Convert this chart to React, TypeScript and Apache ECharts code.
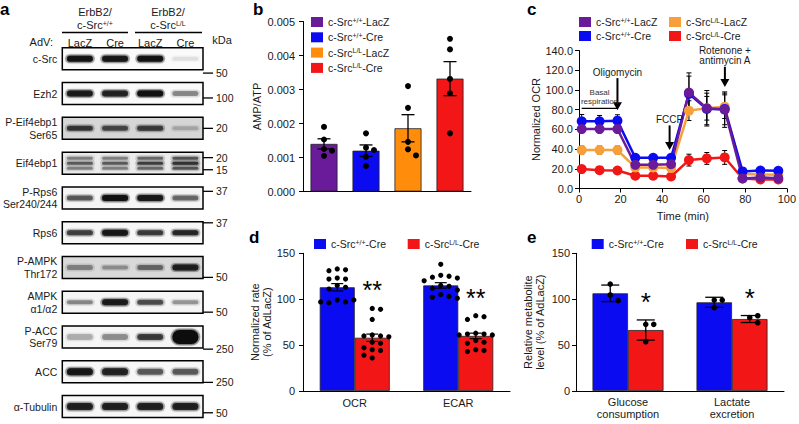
import React, { useEffect, useRef } from 'react';
import * as echarts from 'echarts';

const FONT = '"Liberation Sans", Arial, Helvetica, sans-serif';
const TXT = '#1a1a1a';

// ---------------- panel a : western blot ----------------
const blotLanes = ['LacZ', 'Cre', 'LacZ', 'Cre'];
const blotRows = [
  'c-Src', 'Ezh2', 'P-Eif4ebp1\nSer65', 'Eif4ebp1', 'P-Rps6\nSer240/244', 'Rps6',
  'P-AMPK\nThr172', 'AMPK\nα1/α2', 'P-ACC\nSer79', 'ACC', 'α-Tubulin',
];
const blotIntensity = [
  [0.92, 0.88, 0.92, 0.08],
  [0.85, 0.8, 0.95, 0.35],
  [0.62, 0.55, 0.65, 0.18],
  [0.55, 0.55, 0.68, 0.8],
  [0.5, 0.95, 0.88, 0.45],
  [0.65, 0.88, 0.68, 0.78],
  [0.32, 0.28, 0.42, 0.82],
  [0.35, 0.85, 0.55, 0.3],
  [0.22, 0.32, 0.62, 1.0],
  [0.88, 0.8, 0.5, 0.5],
  [0.82, 0.82, 0.82, 0.82],
];
const blotBandHeight = [
  [6, 6, 6, 4], [6, 6, 6, 5], [5, 5, 5, 4], [3, 3, 3, 3], [5, 6, 6, 5], [5, 6, 5, 5],
  [5, 4, 5, 6], [4, 6, 5, 4], [6, 6, 6, 14], [7, 7, 6, 6], [7, 7, 7, 7],
];
const blotBandCount = [1, 1, 1, 3, 1, 1, 1, 1, 1, 1, 1];
const blotBackground = [0.02, 0.02, 0.16, 0.08, 0.04, 0.03, 0.15, 0.04, 0.04, 0.03, 0.03];
const blotMarkers = [['50'], ['100'], ['20'], ['20', '15'], ['37'], ['37'], ['50'], ['50'], ['250'], ['250'], ['50']];
const blotMarkerPos = [[1.15], [0.7], [0.5], [0.25, 0.8], [0.2], [0.05], [0.95], [0.95], [1.05], [0.98], [0.78]];

// ---------------- panel b : AMP/ATP ----------------
const bGroups = ['c-Src+/+-LacZ', 'c-Src+/+-Cre', 'c-SrcL/L-LacZ', 'c-SrcL/L-Cre'];
const bMeans = [0.0014, 0.0012, 0.00186, 0.00332];
const bSem = [0.00015, 0.00017, 0.0004, 0.0005];
const bPoints = [
  [0.0019, 0.00153, 0.00125, 0.0012, 0.00105],
  [0.00171, 0.00129, 0.00122, 0.00102, 0.00075],
  [0.0031, 0.00246, 0.00146, 0.00124, 0.00106],
  [0.00449, 0.00418, 0.00331, 0.00289, 0.00171],
];

// ---------------- panel c : OCR time course ----------------
const cTimes = [1.3, 9.9, 18.5, 27.1, 35.7, 44.3, 52.9, 61.5, 70.1, 78.7, 87.3, 95.9];
const cMeans = [
  [60.3, 60.3, 60.3, 24, 24, 24.7, 97.3, 81.4, 80, 10.2, 11.2, 10.5],
  [68.1, 68.1, 68.8, 31.2, 31.2, 31.2, 96, 80.7, 80.7, 17.3, 18.3, 18],
  [39, 39, 39, 21.4, 21.4, 20.7, 79, 81.4, 83, 14.6, 14.2, 13.9],
  [19.7, 18.6, 18.3, 12.9, 12.9, 12.2, 28.8, 30.5, 31.5, 10.2, 9.2, 9.2],
];
const cErr = [
  [3, 3, 3, 3, 3, 3, 20, 18, 18, 2, 2, 2],
  [7, 6, 6, 3, 3, 3, 18, 16, 16, 2, 2, 2],
  [4, 4, 4, 3, 3, 3, 10, 12, 12, 2, 2, 2],
  [3, 3, 3, 2, 2, 2, 6, 6, 7, 2, 2, 2],
];
const cInjections = ['Oligomycin', 'FCCP', 'Rotenone +\nantimycin A'];
const cInjectionTime = [18.5, 43.6, 70.2];
const cArrowFrom = [112, 64, 123.5];
const cArrowTo = [79.5, 39, 103];
const cBasalLabel = 'Basal\nrespiration';
const cBasalLevel = 81.3;

// ---------------- panel d : OCR / ECAR ----------------
const dCats = ['OCR', 'ECAR'];
const dGroups = ['c-Src+/+-Cre', 'c-SrcL/L-Cre'];
const dMeans = [[113, 115], [58, 60]];
const dSem = [[4, 3], [4, 3]];
const dPointsCtrl = [
  [133, 132, 131, 123, 122, 122, 115, 113, 111, 99, 97, 96, 99, 97],
  [138, 126, 125, 124, 123, 120, 115, 114, 112, 110, 105, 103, 102, 101],
];
const dPointsKO = [
  [90, 89, 78, 61, 60, 60, 59, 53, 52, 47, 45, 44, 39, 36],
  [82, 81, 78, 63, 62, 62, 61, 61, 55, 53, 52, 45, 44, 43],
];
const dSig = ['**', '**'];

// ---------------- panel e : metabolites ----------------
const eCats = ['Glucose\nconsumption', 'Lactate\nexcretion'];
const eMeans = [[106.4, 96.6], [66.4, 78.4]];
const eSem = [[9, 5.5], [11, 3.8]];
const ePointsCtrl = [[116.5, 104.6, 98.4], [99, 99, 90.8]];
const ePointsKO = [[72.6, 72.6, 53.7], [79.9, 82, 74.4]];
const eSig = ['*', '*'];

// ---------------- styles ----------------
const COL = {
  purple: '#6a1b9a',
  blue: '#0b0bf2',
  orange: '#ff8c0a',
  orangeC: '#f7a03a',
  red: '#f21616',
};
const bColors = [COL.purple, COL.blue, COL.orange, COL.red];
const cColors = [COL.purple, COL.blue, COL.orangeC, COL.red];
const sup = (n: string) => n.replace(/^c-Src(\+\/\+|L\/L)/, 'c-Src{sup|$1}');
const richSup = { sup: { fontSize: 7, verticalAlign: 'top', lineHeight: 7, fontFamily: FONT, color: TXT } };

function swarm(px: number[][], cats: number[], minDist: number, step: number) {
  const offs: number[] = new Array(px.length).fill(0);
  const placed: { c: number; x: number; y: number }[] = [];
  for (let i = 0; i < px.length; i++) {
    for (let k = 0; k < 30; k++) {
      const cand = k === 0 ? 0 : (k % 2 === 1 ? 1 : -1) * Math.ceil(k / 2) * step;
      const ok = placed.every((p) => p.c !== cats[i] || Math.hypot(p.x - cand, p.y - px[i][1]) >= minDist);
      if (ok) {
        offs[i] = cand;
        placed.push({ c: cats[i], x: cand, y: px[i][1] });
        break;
      }
    }
  }
  return offs;
}

function dotSeries(axis: number, groups: number[][], dx: number, r: number, step: number) {
  const cats: number[] = [];
  const vals: number[] = [];
  groups.forEach((g, ci) => g.forEach((v) => { cats.push(ci); vals.push(v); }));
  let cache: number[] = [];
  return {
    type: 'custom', xAxisIndex: axis, yAxisIndex: axis, z: 6, silent: true,
    data: vals.map((v, i) => [cats[i], v]),
    renderItem: (params: any, api: any) => {
      if (params.dataIndex === 0 || cache.length !== vals.length) {
        const pts = vals.map((v, i) => api.coord([cats[i], v]));
        cache = swarm(pts, cats, r * 2 + 0.8, step);
      }
      const p = api.coord([api.value(0), api.value(1)]);
      return { type: 'circle', shape: { cx: p[0] + dx + cache[params.dataIndex], cy: p[1], r }, style: { fill: '#000' } };
    },
  };
}

function errorSeries(axis: number, rows: number[][], dx: number, cap: number, lw: number, z: number) {
  return {
    type: 'custom', xAxisIndex: axis, yAxisIndex: axis, z, silent: true,
    data: rows,
    renderItem: (params: any, api: any) => {
      const x = api.value(0), m = api.value(1), e = api.value(2);
      const t = api.coord([x, m + e]);
      const b = api.coord([x, m - e]);
      const cx = t[0] + dx;
      const st = { stroke: '#000', lineWidth: lw };
      return {
        type: 'group', children: [
          { type: 'line', shape: { x1: cx, y1: t[1], x2: cx, y2: b[1] }, style: st },
          { type: 'line', shape: { x1: cx - cap, y1: t[1], x2: cx + cap, y2: t[1] }, style: st },
          { type: 'line', shape: { x1: cx - cap, y1: b[1], x2: cx + cap, y2: b[1] }, style: st },
        ],
      };
    },
  };
}

function sigSeries(axis: number, labels: string[], ko: number[][], means: number[], sems: number[], dx: number, fontSize: number) {
  return {
    type: 'custom', xAxisIndex: axis, yAxisIndex: axis, z: 7, silent: true,
    data: labels.map((_, i) => [i, Math.max(Math.max(...ko[i]), means[i] + sems[i])]),
    renderItem: (params: any, api: any) => {
      const p = api.coord([api.value(0), api.value(1)]);
      return {
        type: 'text', x: p[0] + dx, y: p[1] - 18,
        style: { text: labels[params.dataIndex], fontSize, fontFamily: FONT, fill: '#000', align: 'center', verticalAlign: 'middle' },
      };
    },
  };
}

function buildOption(): any {
  const tick = { show: true, length: 4, lineStyle: { color: '#000', width: 1 } };
  const line = { show: true, lineStyle: { color: '#000', width: 1 } };
  const lab = { fontFamily: FONT, fontSize: 11, color: TXT };
  const nameStyle = { fontFamily: FONT, fontSize: 11, color: TXT, lineHeight: 12 };

  const grid = [
    { left: 58, top: 41.4, width: 145, height: 387.2 },
    { left: 303, top: 21.5, width: 168, height: 170 },
    { left: 579, top: 50.5, width: 209, height: 138 },
    { left: 303, top: 253.3, width: 207, height: 137.7 },
    { left: 576, top: 253.3, width: 208, height: 137.7 },
  ];

  const xAxis = [
    { gridIndex: 0, type: 'category', data: blotLanes, position: 'top', axisLine: { show: false }, axisTick: { show: false }, axisLabel: { ...lab, margin: -7 } },
    { gridIndex: 1, type: 'category', data: bGroups, axisLine: line, axisTick: { show: false }, axisLabel: { show: false } },
    {
      gridIndex: 2, type: 'value', min: 0, max: 100, interval: 20, axisLine: line, axisTick: tick, splitLine: { show: false },
      axisLabel: { ...lab, margin: 5 }, name: 'Time (min)', nameLocation: 'middle', nameGap: 21, nameTextStyle: nameStyle,
    },
    { gridIndex: 3, type: 'category', data: dCats, axisLine: line, axisTick: { show: false }, axisLabel: { ...lab, margin: 6 } },
    { gridIndex: 4, type: 'category', data: eCats, axisLine: line, axisTick: { show: false }, axisLabel: { ...lab, margin: 5, lineHeight: 12 } },
  ];

  const yAxis = [
    {
      gridIndex: 0, type: 'category', data: blotRows, inverse: true, axisLine: { show: false }, axisTick: { show: false },
      axisLabel: { fontFamily: FONT, fontSize: 10.5, color: TXT, lineHeight: 12.5, margin: 5 },
    },
    {
      gridIndex: 1, type: 'value', min: 0, max: 0.005, interval: 0.001, axisLine: line, axisTick: tick, splitLine: { show: false },
      axisLabel: { ...lab, margin: 8, formatter: (v: number) => v.toFixed(3) }, name: 'AMP/ATP', nameLocation: 'middle', nameGap: 40, nameTextStyle: nameStyle,
    },
    {
      gridIndex: 2, type: 'value', min: 0, max: 140, interval: 20, axisLine: line, axisTick: tick, splitLine: { show: false },
      axisLabel: { ...lab, margin: 6, formatter: (v: number) => v.toFixed(1) }, name: 'Normalized OCR', nameLocation: 'middle', nameGap: 37, nameTextStyle: nameStyle,
    },
    {
      gridIndex: 3, type: 'value', min: 0, max: 150, interval: 50, axisLine: line, axisTick: tick, splitLine: { show: false },
      axisLabel: { ...lab, margin: 8 }, name: 'Normalized rate\n(% of AdLacZ)', nameLocation: 'middle', nameGap: 30, nameTextStyle: nameStyle,
    },
    {
      gridIndex: 4, type: 'value', min: 0, max: 150, interval: 50, axisLine: line, axisTick: tick, splitLine: { show: false },
      axisLabel: { ...lab, margin: 6 }, name: 'Relative metabolite\nlevel (% of AdLacZ)', nameLocation: 'middle', nameGap: 30, nameTextStyle: nameStyle,
    },
  ];

  const series: any[] = [];

  // ---- blot ----
  series.push({
    type: 'custom', xAxisIndex: 0, yAxisIndex: 0, silent: true, clip: false,
    data: blotRows.map((_, i) => [0, i]),
    renderItem: (params: any, api: any) => {
      const row = params.dataIndex;
      const cs = params.coordSys;
      const cy = api.coord([0, row])[1];
      const bh = 22;
      const top = cy - bh / 2;
      const g = Math.round(255 * (1 - blotBackground[row]));
      const children: any[] = [
        { type: 'rect', shape: { x: cs.x, y: top, width: cs.width, height: bh }, style: { fill: `rgb(${g},${g},${g})` } },
      ];
      blotLanes.forEach((_, lane) => {
        const cx = api.coord([lane, row])[0];
        const inten = blotIntensity[row][lane];
        const n = blotBandCount[row];
        for (let b = 0; b < n; b++) {
          const by = n === 1 ? cy : cy - 5 + b * 5;
          const h = blotBandHeight[row][lane];
          const a = n === 1 ? inten : inten * (b === 1 ? 0.9 : 0.65);
          children.push({ type: 'rect', shape: { x: cx - 15, y: by - h / 2 - 1.5, width: 30, height: h + 3, r: (h + 3) / 2 }, style: { fill: `rgba(20,20,20,${a * 0.3})` } });
          children.push({
            type: 'rect', shape: { x: cx - 13, y: by - h / 2, width: 26, height: h, r: h / 2 },
            style: { fill: `rgba(10,10,10,${a})`, shadowBlur: 3, shadowColor: `rgba(10,10,10,${a * 0.8})` },
          });
        }
      });
      children.push({ type: 'rect', shape: { x: cs.x, y: top, width: cs.width, height: bh }, style: { fill: 'none', stroke: '#000', lineWidth: 1.5 } });
      const right = cs.x + cs.width;
      blotMarkers[row].forEach((m, k) => {
        const my = top + blotMarkerPos[row][k] * bh;
        children.push({ type: 'line', shape: { x1: right, y1: my, x2: right + 10, y2: my }, style: { stroke: '#000', lineWidth: 1.3 } });
        children.push({ type: 'text', x: right + 13, y: my, style: { text: m, fontSize: 10.5, fontFamily: FONT, fill: TXT, align: 'left', verticalAlign: 'middle' } });
      });
      return { type: 'group', children };
    },
  });

  // ---- b ----
  bGroups.forEach((gname, i) => {
    series.push({
      type: 'bar', name: gname, xAxisIndex: 1, yAxisIndex: 1, barWidth: 27, barGap: '-100%', z: 2,
      data: bMeans.map((m, j) => (j === i ? m : '-')),
      itemStyle: { color: bColors[i], borderColor: '#222', borderWidth: 0.8 },
    });
  });
  series.push(errorSeries(1, bMeans.map((m, i) => [i, m, bSem[i]]), 0, 6.5, 1.3, 5));
  series.push(dotSeries(1, bPoints, 0, 3, 8));

  // ---- c ----
  series.push(errorSeries(2, cMeans.flatMap((arr, g) => arr.map((v, j) => [cTimes[j], v, cErr[g][j]])), 0, 2.5, 1, 3));
  [3, 2, 1, 0].forEach((i) => {
    series.push({
      type: 'line', name: 'OCR ' + bGroups[i], xAxisIndex: 2, yAxisIndex: 2, z: 4,
      data: cTimes.map((t, j) => [t, cMeans[i][j]]),
      symbol: 'circle', symbolSize: 10, showSymbol: true,
      lineStyle: { width: 2.5, color: cColors[i] }, itemStyle: { color: cColors[i] },
    });
  });
  series.push({
    type: 'custom', xAxisIndex: 2, yAxisIndex: 2, z: 8, silent: true, clip: false,
    data: cInjections.map((_, i) => [cInjectionTime[i], cArrowFrom[i], cArrowTo[i]]),
    renderItem: (params: any, api: any) => {
      const a = api.coord([api.value(0), api.value(1)]);
      const b = api.coord([api.value(0), api.value(2)]);
      const label = cInjections[params.dataIndex];
      return {
        type: 'group', children: [
          { type: 'line', shape: { x1: a[0], y1: a[1], x2: b[0], y2: b[1] - 6 }, style: { stroke: '#000', lineWidth: 2 } },
          { type: 'polygon', shape: { points: [[b[0] - 4.5, b[1] - 8], [b[0] + 4.5, b[1] - 8], [b[0], b[1]]] }, style: { fill: '#000' } },
          { type: 'text', x: a[0], y: a[1] - 1, style: { text: label, fontSize: 10, lineHeight: 10, fontFamily: FONT, fill: TXT, align: 'center', verticalAlign: 'bottom' } },
        ],
      };
    },
  });
  series.push({
    type: 'custom', xAxisIndex: 2, yAxisIndex: 2, z: 8, silent: true, clip: false,
    data: [[cTimes[0], cBasalLevel, cInjectionTime[0]]],
    renderItem: (params: any, api: any) => {
      const a = api.coord([api.value(0), api.value(1)]);
      const b = api.coord([api.value(2), api.value(1)]);
      return {
        type: 'group', children: [
          { type: 'line', shape: { x1: a[0], y1: a[1], x2: b[0], y2: b[1] }, style: { stroke: '#000', lineWidth: 1.2 } },
          { type: 'text', x: (a[0] + b[0]) / 2, y: a[1] - 2, style: { text: cBasalLabel, fontSize: 8, lineHeight: 9, fontFamily: FONT, fill: '#333', align: 'center', verticalAlign: 'bottom' } },
        ],
      };
    },
  });

  // ---- d ----
  const dColors = [COL.blue, COL.red];
  dGroups.forEach((gname, i) => {
    series.push({
      type: 'bar', name: gname, xAxisIndex: 3, yAxisIndex: 3, barWidth: 35, barGap: '0%', z: 2,
      data: dMeans[i], itemStyle: { color: dColors[i], borderColor: '#222', borderWidth: 0.8 },
    });
  });
  series.push(errorSeries(3, dMeans[0].map((m, i) => [i, m, dSem[0][i]]), -17.5, 6, 1.2, 5));
  series.push(errorSeries(3, dMeans[1].map((m, i) => [i, m, dSem[1][i]]), 17.5, 6, 1.2, 5));
  series.push(dotSeries(3, dPointsCtrl, -17.5, 2.6, 8.3));
  series.push(dotSeries(3, dPointsKO, 17.5, 2.6, 8.3));
  series.push(sigSeries(3, dSig, dPointsKO, dMeans[1], dSem[1], 17.5, 25));

  // ---- e ----
  eMeans.forEach((vals, i) => {
    series.push({
      type: 'bar', name: 'Metabolite ' + dGroups[i], xAxisIndex: 4, yAxisIndex: 4, barWidth: 35.5, barGap: '0%', z: 2,
      data: vals, itemStyle: { color: dColors[i], borderColor: '#222', borderWidth: 0.8 },
    });
  });
  series.push(errorSeries(4, eMeans[0].map((m, i) => [i, m, eSem[0][i]]), -17.75, 9, 1.3, 5));
  series.push(errorSeries(4, eMeans[1].map((m, i) => [i, m, eSem[1][i]]), 17.75, 9, 1.3, 5));
  series.push(dotSeries(4, ePointsCtrl, -17.75, 2.8, 8));
  series.push(dotSeries(4, ePointsKO, 17.75, 2.8, 8));
  series.push(sigSeries(4, eSig, ePointsKO, eMeans[1], eSem[1], 17.75, 26));

  const letter = (t: string, x: number, y: number) => ({
    type: 'text', x, y, style: { text: t, fontSize: 17, fontWeight: 'bold', fontFamily: FONT, fill: '#000', align: 'left', verticalAlign: 'middle' },
  });
  const txt = (t: string, x: number, y: number, align = 'center', size = 11) => ({
    type: 'text', x, y, style: { text: t, fontSize: size, fontFamily: FONT, fill: TXT, align, verticalAlign: 'middle', rich: richSup },
  });
  const hline = (x1: number, x2: number, y: number) => ({ type: 'line', shape: { x1, y1: y, x2, y2: y }, style: { stroke: '#000', lineWidth: 1.3 } });
  // legend keys drawn as graphic groups
  const key = (name: string, color: string, x: number, y: number) => ({
    type: 'group', children: [
      { type: 'rect', shape: { x, y: y - 5, width: 12, height: 10 }, style: { fill: color } },
      { type: 'text', x: x + 17, y, style: { text: sup(name), fontSize: 10.5, fontFamily: FONT, fill: TXT, align: 'left', verticalAlign: 'middle', rich: richSup } },
    ],
  });

  const graphic = [
    letter('a', 0, 9), letter('b', 253, 9), letter('c', 527, 9), letter('d', 249, 237), letter('e', 527, 237),
    txt('ErbB2/', 95, 12), txt('c-Src{sup|+/+}', 95, 25), hline(62, 128, 32.5),
    txt('ErbB2/', 168, 12), txt('c-Src{sup|L/L}', 168, 25), hline(135, 202, 32.5),
    txt('AdV:', 53, 42, 'right'), txt('kDa', 222, 40),
    ...bGroups.map((g, i) => key(g, bColors[i], 311, 22 + i * 15.3)),
    key(bGroups[0], cColors[0], 579, 22), key(bGroups[1], cColors[1], 579, 36),
    key(bGroups[2], cColors[2], 669, 22), key(bGroups[3], cColors[3], 669, 36),
    key(dGroups[0], COL.blue, 314, 244), key(dGroups[1], COL.red, 407.7, 244),
    key(dGroups[0], COL.blue, 591.7, 244), key(dGroups[1], COL.red, 686, 244),
  ];

  return {
    animation: false,
    backgroundColor: '#fff',
    textStyle: { fontFamily: FONT },
    grid, xAxis, yAxis, series, graphic,
  };
}

export default function App() {
  const ref = useRef<HTMLDivElement>(null);
  useEffect(() => {
    if (!ref.current) return;
    const chart = echarts.init(ref.current, undefined, { renderer: 'svg' });
    chart.setOption(buildOption());
    return () => chart.dispose();
  }, []);
  return <div ref={ref} style={{ position: 'absolute', left: 0, top: 0, width: 799, height: 424 }} />;
}
